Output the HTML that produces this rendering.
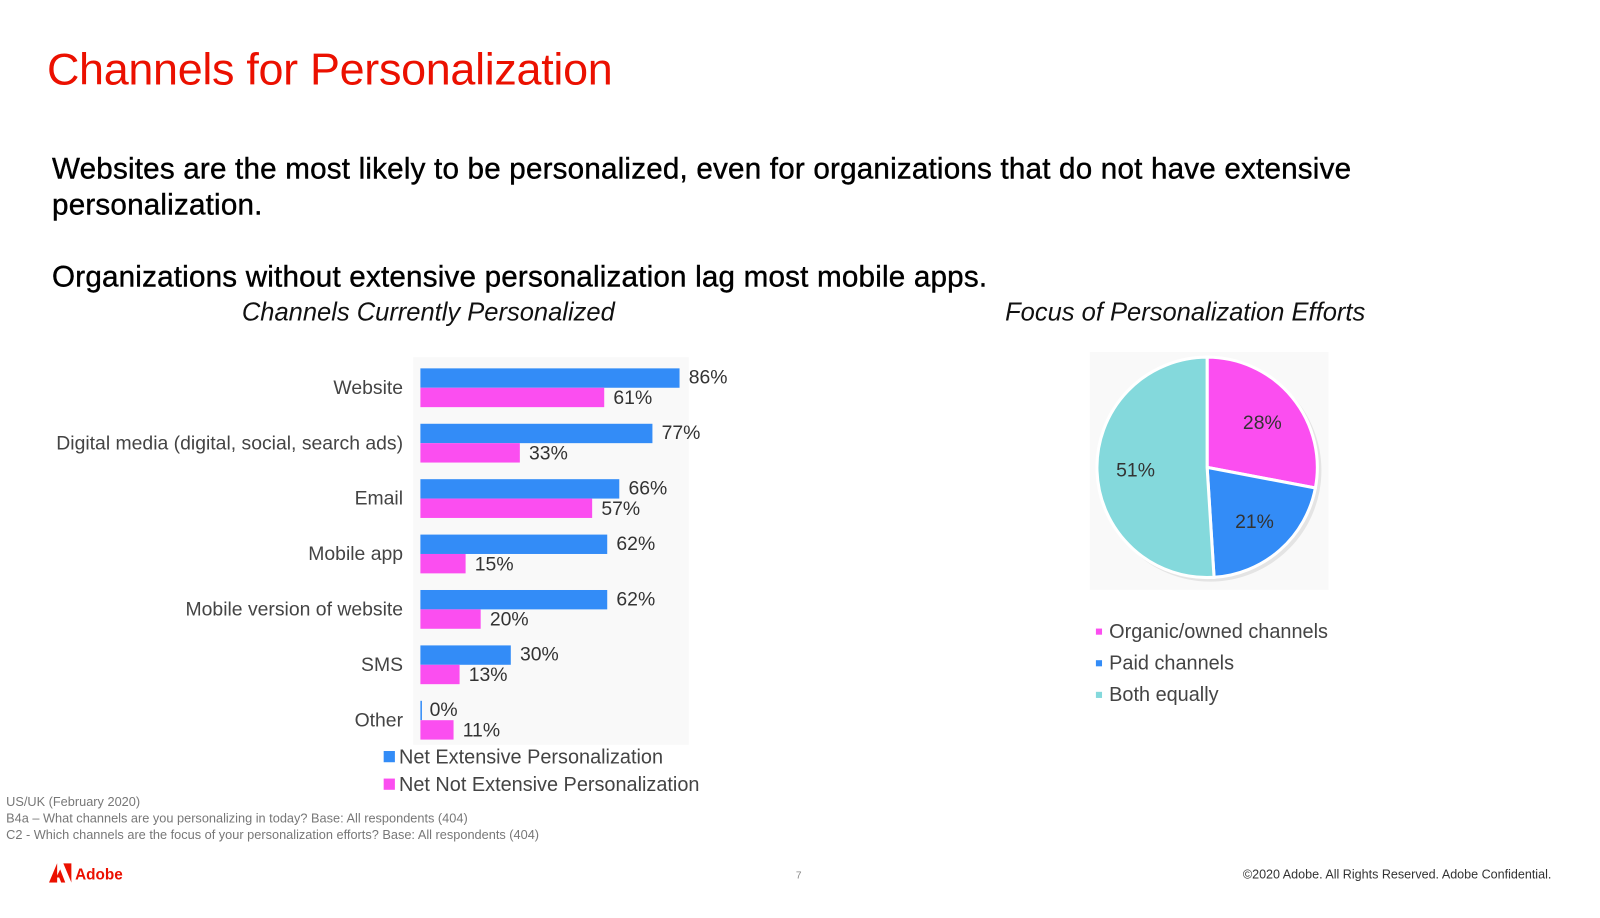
<!DOCTYPE html>
<html><head><meta charset="utf-8"><style>
body{margin:0;width:1600px;height:900px;background:#fff;position:relative;overflow:hidden;font-family:"Liberation Sans",sans-serif}
#wrap{position:absolute;left:0;top:0;width:1600px;height:900px;transform:scale(1.0204);transform-origin:0 0}
.a{position:absolute;white-space:nowrap}
</style></head><body><div id="wrap">
<div class="a" style="left:46px;top:44px;font-size:44px;color:#eb1000;letter-spacing:-0.3px">Channels for Personalization</div>
<div class="a" style="left:51px;top:149px;font-size:29px;letter-spacing:0.2px;color:#000;line-height:35px;white-space:normal;width:1360px;-webkit-text-stroke:0.4px #000">Websites are the most likely to be personalized, even for organizations that do not have extensive personalization.</div>
<div class="a" style="left:51px;top:255px;font-size:29px;letter-spacing:0.2px;color:#000;line-height:35px;-webkit-text-stroke:0.4px #000">Organizations without extensive personalization lag most mobile apps.</div>
<div class="a" style="left:237px;top:292px;font-size:25px;font-style:italic;color:#111">Channels Currently Personalized</div>
<div class="a" style="left:985px;top:292px;font-size:25px;font-style:italic;color:#111">Focus of Personalization Efforts</div>
<svg id="bars" class="a" style="left:0;top:0" width="760" height="790"></svg>
<svg id="pie" class="a" style="left:1060px;top:0" width="300" height="720"></svg>
<div class="a" style="left:6px;top:778px;font-size:12.5px;color:#777;line-height:16px">US/UK (February 2020)<br>B4a – What channels are you personalizing in today? Base: All respondents (404)<br>C2 - Which channels are the focus of your personalization efforts? Base: All respondents (404)</div>
<div class="a" style="left:48px;top:846px;font-size:15px;font-weight:bold;color:#eb1000"><svg width="22" height="19" style="vertical-align:-3px"><polygon points="0,19 8,0 8,19" fill="#eb1000"/><polygon points="14,0 22,0 22,19" fill="#eb1000"/><polygon points="11,6 16,19 12,19 10,14 7,14" fill="#eb1000"/></svg> Adobe</div>
<div class="a" style="left:780px;top:853px;font-size:10px;color:#888">7</div>
<div class="a" style="left:1218px;top:850px;font-size:12.3px;color:#333">©2020 Adobe. All Rights Reserved. Adobe Confidential.</div>
</div>
<script>
const NS="http://www.w3.org/2000/svg";
const categories=["Website","Digital media (digital, social, search ads)","Email","Mobile app","Mobile version of website","SMS","Other"];
const extensive=[86,77,66,62,62,30,0];
const notExtensive=[61,33,57,15,20,13,11];
const seriesNames=["Net Extensive Personalization","Net Not Extensive Personalization"];
const pieLabels=["Organic/owned channels","Paid channels","Both equally"];
const pieValues=[28,21,51];
function mk(p,t,a){const e=document.createElementNS(NS,t);for(const k in a)e.setAttribute(k,a[k]);p.appendChild(e);return e;}
const bs=document.getElementById('bars');
const x0=412,pxPer=2.953,top0=361,pitch=54.3,bh=19;
const xs=v=>v*pxPer;
mk(bs,'rect',{x:405,y:350,width:270,height:380,fill:'#f9f9f9'});
categories.forEach((c,i)=>{
  const y=top0+i*pitch;
  const b=mk(bs,'rect',{x:x0,y:y,width:Math.max(xs(extensive[i]),1.5),height:bh,fill:'#338cf7'});
  
  
  const p=mk(bs,'rect',{x:x0,y:y+bh,width:xs(notExtensive[i]),height:bh,fill:'#fb4ef0'});
  
  
  const l=mk(bs,'text',{x:395,y:y+bh+6,'text-anchor':'end','font-size':19,fill:'#444'});l.textContent=c;
  
  
  const v1=mk(bs,'text',{x:x0+xs(extensive[i])+9,y:y+15,'font-size':19,fill:'#333'});v1.textContent=extensive[i]+'%';
  
  
  const v2=mk(bs,'text',{x:x0+xs(notExtensive[i])+9,y:y+bh+16,'font-size':19,fill:'#333'});v2.textContent=notExtensive[i]+'%';
  
  
});
[["#338cf7",748],["#fb4ef0",775]].forEach((d,i)=>{
  const r=mk(bs,'rect',{x:376,y:d[1]-12,width:11,height:11,fill:d[0]});
  
  
  const t=mk(bs,'text',{x:391,y:d[1],'font-size':19.5,fill:'#444'});t.textContent=seriesNames[i];
  
  
});
const ps=document.getElementById('pie');
const cx=123,cy=458,R=108,cols=['#fb4ef0','#338cf7','#84d9dc'];
mk(ps,'rect',{x:8,y:345,width:234,height:233,fill:'#f9f9f9'});
mk(ps,'circle',{cx:cx+3,cy:cy+3,r:R+1,fill:'#e4e4e4'});
const tot=pieValues.reduce((a,b)=>a+b,0);let acc=0;
pieValues.forEach((v,i)=>{
  const a0=acc/tot*2*Math.PI,a1=(acc+v)/tot*2*Math.PI;acc+=v;
  const pt=a=>[cx+R*Math.sin(a),cy-R*Math.cos(a)];
  const [sx,sy]=pt(a0),[ex,ey]=pt(a1);
  const s=mk(ps,'path',{d:`M${cx},${cy}L${sx},${sy}A${R},${R} 0 ${a1-a0>Math.PI?1:0} 1 ${ex},${ey}Z`,fill:cols[i],stroke:'#fff','stroke-width':3});
  
  
  const m=(a0+a1)/2,lr=R*0.65;
  const t=mk(ps,'text',{x:cx+lr*Math.sin(m),y:cy-lr*Math.cos(m)+7,'text-anchor':'middle','font-size':19,fill:'#333'});t.textContent=v+'%';
  
  
});
pieLabels.forEach((l,i)=>{
  const y=625+i*31;
  const r=mk(ps,'rect',{x:14,y:y-9,width:6,height:6,fill:cols[i]});
  
  
  const t=mk(ps,'text',{x:27,y:y,'font-size':19.5,fill:'#444'});t.textContent=l;
  
  
});
</script>
</body></html>
